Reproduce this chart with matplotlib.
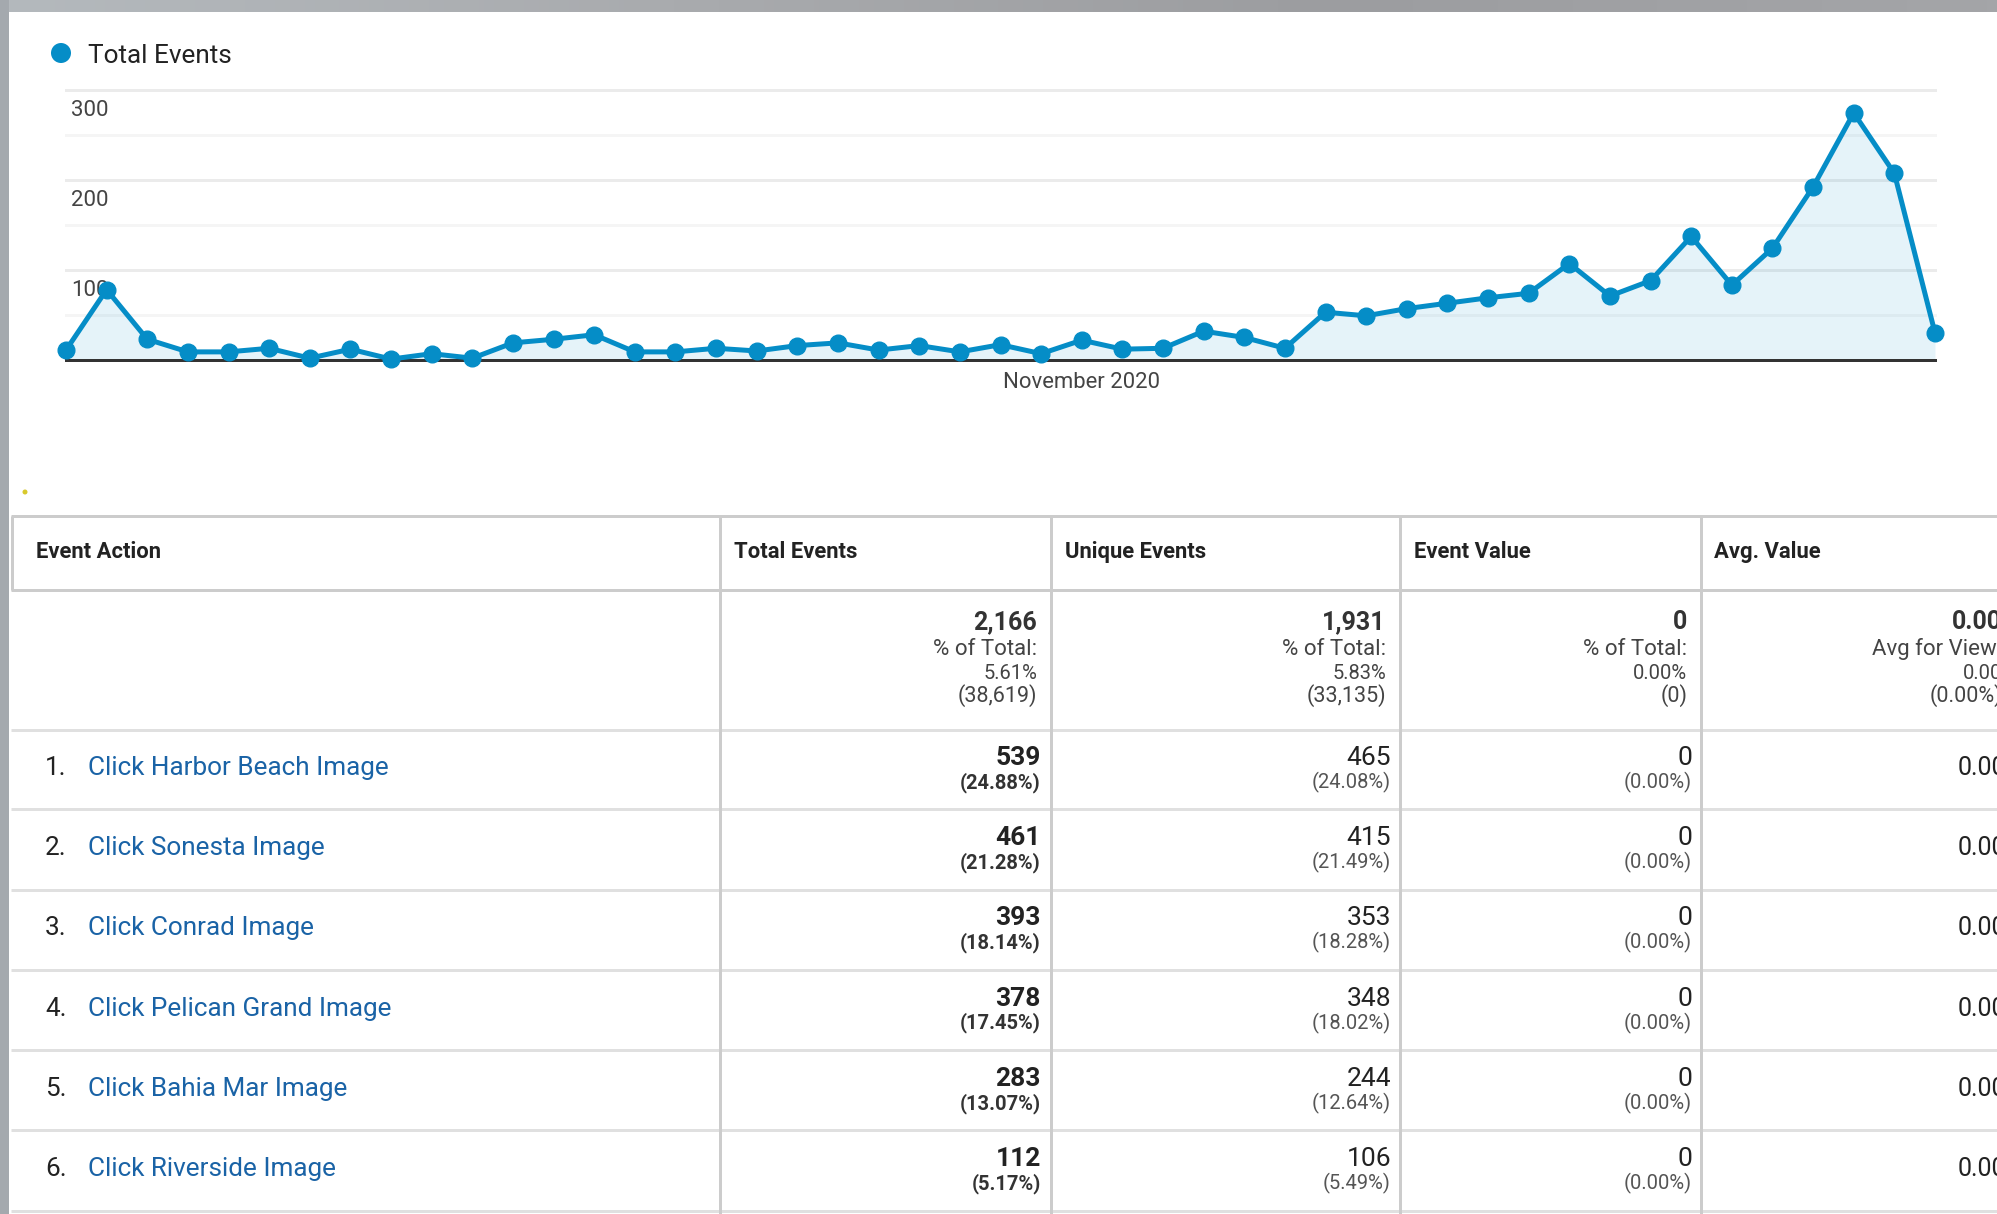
import matplotlib
matplotlib.use('Agg')
import matplotlib.pyplot as plt
from matplotlib.patches import Rectangle, Circle
import numpy as np

plt.rcParams['font.family'] = ['Roboto', 'DejaVu Sans']

# ---------------- data ----------------
series_name = "Total Events"
daily_total_events = [11, 78, 23, 9, 9, 13, 2, 12, 1, 7, 2, 19, 23, 28, 9, 9,
                      13, 10, 16, 19, 11, 16, 9, 17, 7, 22, 12, 13, 32, 25, 13,
                      53, 49, 57, 63, 69, 74, 107, 71, 88, 137, 83, 124, 192, 274, 207, 30]
y_tick_values = [100, 200, 300]
x_axis_label = "November 2020"
x_label_index = 25

table_columns = ["Event Action", "Total Events", "Unique Events", "Event Value", "Avg. Value"]
event_actions = ["Click Harbor Beach Image", "Click Sonesta Image", "Click Conrad Image",
                 "Click Pelican Grand Image", "Click Bahia Mar Image", "Click Riverside Image"]
total_events = [539, 461, 393, 378, 283, 112]
total_events_pct = ["24.88%", "21.28%", "18.14%", "17.45%", "13.07%", "5.17%"]
unique_events = [465, 415, 353, 348, 244, 106]
unique_events_pct = ["24.08%", "21.49%", "18.28%", "18.02%", "12.64%", "5.49%"]
event_values = [0, 0, 0, 0, 0, 0]
event_values_pct = ["0.00%", "0.00%", "0.00%", "0.00%", "0.00%", "0.00%"]
avg_values = ["0.00", "0.00", "0.00", "0.00", "0.00", "0.00"]

summary_main = ["2,166", "1,931", "0", "0.00"]
summary_label = ["% of Total:", "% of Total:", "% of Total:", "Avg for View:"]
summary_pct = ["5.61%", "5.83%", "0.00%", "0.00"]
summary_base = ["(38,619)", "(33,135)", "(0)", "(0.00%)"]

# ---------------- figure ----------------
W, H = 1997, 1214
fig = plt.figure(figsize=(W / 100, H / 100), dpi=100)
fig.patch.set_facecolor('white')

bg = fig.add_axes([0, 0, 1, 1], zorder=0)
bg.axis('off')

# blurred screenshot border (top and left)
grad = np.linspace(0, 1, 400).reshape(1, -1)
bg.imshow(grad, extent=(0, W, 12.5, 0), cmap=matplotlib.colors.LinearSegmentedColormap.from_list(
    'g', ['#b4b9bd', '#a9abae', '#9c9da0', '#a4a5a8']), aspect='auto', zorder=1)
bg.add_patch(Rectangle((0, 0), 9, H, color='#a4a9ae', zorder=1, lw=0))
bg.set_xlim(0, W)
bg.set_ylim(H, 0)

PX = 72 / 100  # points per pixel

# legend
blue = '#058dc7'
bg.add_patch(Circle((61, 53), 10, color=blue, lw=0))
bg.text(88, 63, series_name, fontsize=18.8, color='#222222', va='baseline', ha='left')

# tiny dot
bg.add_patch(Circle((25, 492), 2.5, color='#d8c92c', lw=0))

# ---------------- chart ----------------
L, R, T, B = 66, 1935, 89.5, 360
ax = fig.add_axes([L / W, 1 - B / H, (R - L) / W, (B - T) / H], zorder=2)
ax.set_facecolor('none')
n = len(daily_total_events)
xs = np.arange(n)
ax.set_xlim(0, n - 1)
ax.set_ylim(0, 300)
for s in ax.spines.values():
    s.set_visible(False)
ax.set_xticks([])
ax.set_yticks([])

for v in [50, 150, 250]:
    ax.axhline(v, color='#f5f5f5', lw=3 * PX, zorder=0, clip_on=False)
for v in y_tick_values:
    ax.axhline(v, color='#ebebeb', lw=3 * PX, zorder=0, clip_on=False)
    ax.annotate(str(v), xy=(0, v), xycoords=ax.get_yaxis_transform(),
                xytext=(5, -26), textcoords='offset pixels', ha='left', va='baseline',
                fontsize=16, color='#444444', zorder=1)

ax.fill_between(xs, daily_total_events, 0, color=blue, alpha=0.1, lw=0, zorder=1)
ax.axhline(0, color='#333333', lw=3 * PX, zorder=2, clip_on=False)
ax.plot(xs, daily_total_events, color=blue, lw=3.6, marker='o', markersize=12,
        markeredgecolor=blue, markerfacecolor=blue, clip_on=False, zorder=3)

ax.annotate(x_axis_label, xy=(x_label_index, 0), xycoords='data', xytext=(0, -28),
            textcoords='offset pixels', ha='center', va='baseline', fontsize=15.9, color='#444444')

# ---------------- table ----------------
col_sep = [720, 1051, 1400, 1701]
header_top, header_bot = 516, 589.5
row_lines = [729.5, 809, 889.5, 970, 1050.3, 1130.3, 1211]
lw_tab = 3 * PX

bg.hlines([header_top, header_bot], 11, W, color='#cccccc', lw=lw_tab, zorder=2)
bg.vlines(12.5, header_top, header_bot, color='#cccccc', lw=lw_tab, zorder=2)
bg.hlines(row_lines, 11, W, color='#e0e0e0', lw=lw_tab, zorder=2)
bg.vlines(col_sep, header_top, H, color='#cccccc', lw=lw_tab, zorder=3)

header_x = [36, 734, 1065, 1414, 1714]
for hx, name in zip(header_x, table_columns):
    bg.text(hx, 558.3, name, fontsize=15.8, fontweight='bold', color='#222222',
            ha='left', va='baseline')

sum_right = [1037, 1386, 1687.5, 2002]
for rx, a, b, c, d in zip(sum_right, summary_main, summary_label, summary_pct, summary_base):
    bg.text(rx, 629, a, fontsize=18, fontweight='bold', color='#333333', ha='right', va='baseline')
    bg.text(rx, 655, b, fontsize=16, color='#444444', ha='right', va='baseline')
    bg.text(rx, 679.3, c, fontsize=14.5, color='#444444', ha='right', va='baseline')
    bg.text(rx, 701.7, d, fontsize=15.5, color='#444444', ha='right', va='baseline')

row_step = 80.2
link = '#1a63a6'
for i in range(len(event_actions)):
    yb = 775 + row_step * i
    yn = 765 + row_step * i
    yp = 788.3 + row_step * i
    bg.text(45, yb, f"{i + 1}.", fontsize=18.8, color='#222222', ha='left', va='baseline')
    bg.text(88, yb, event_actions[i], fontsize=18.8, color=link, ha='left', va='baseline')
    bg.text(1041, yn, f"{total_events[i]}", fontsize=19, fontweight='bold', color='#222222',
            ha='right', va='baseline')
    bg.text(1041, yp, f"({total_events_pct[i]})", fontsize=14.5, fontweight='bold',
            color='#333333', ha='right', va='baseline')
    bg.text(1391, yn, f"{unique_events[i]}", fontsize=19, color='#222222', ha='right', va='baseline')
    bg.text(1391, yp, f"({unique_events_pct[i]})", fontsize=14.5, color='#555555',
            ha='right', va='baseline')
    bg.text(1692, yn, f"{event_values[i]}", fontsize=19, color='#222222', ha='right', va='baseline')
    bg.text(1692, yp, f"({event_values_pct[i]})", fontsize=14.5, color='#555555',
            ha='right', va='baseline')
    bg.text(2006, yb, avg_values[i], fontsize=18, color='#222222', ha='right', va='baseline')

fig.savefig('out.png', dpi=100, facecolor='white')
